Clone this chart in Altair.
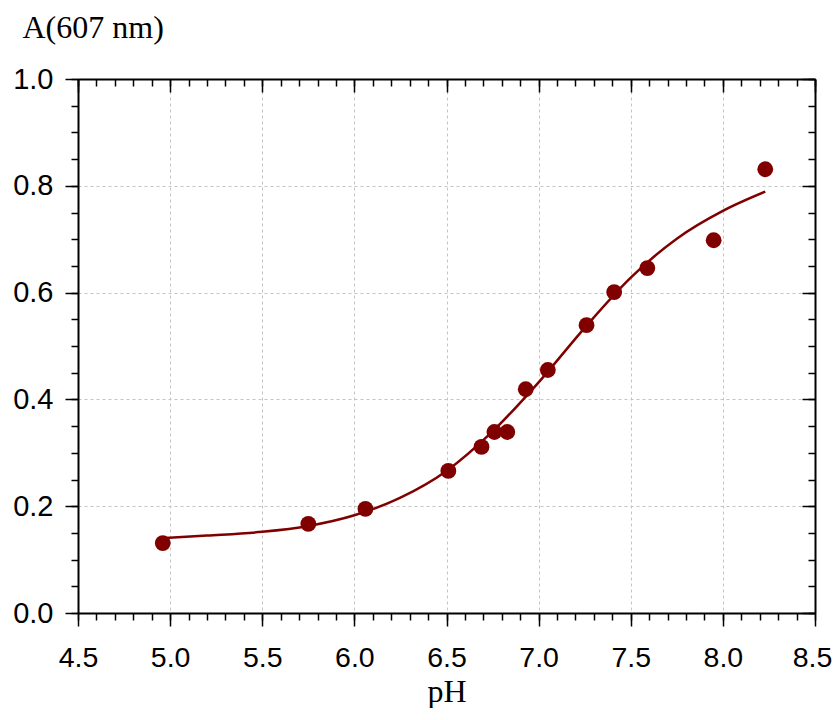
import altair as alt
import pandas as pd

# measured points
ph = [4.96, 5.75, 6.06, 6.51, 6.69, 6.76, 6.83, 6.93, 7.05, 7.26, 7.41, 7.59, 7.95, 8.23]
absorb = [0.131, 0.167, 0.195, 0.266, 0.311, 0.339, 0.339, 0.419, 0.455, 0.539, 0.601, 0.646, 0.698, 0.831]

# fitted curve
curve_ph = [4.95, 5.2, 5.5, 5.75, 6.0, 6.25, 6.5, 6.75, 7.0, 7.25, 7.5, 7.75, 8.0, 8.23]
curve_a = [0.140, 0.145, 0.152, 0.163, 0.183, 0.216, 0.266, 0.340, 0.432, 0.534, 0.628, 0.701, 0.753, 0.789]

x_major = [4.5, 5.0, 5.5, 6.0, 6.5, 7.0, 7.5, 8.0, 8.5]
x_minor = [round(4.5 + 0.1 * i, 1) for i in range(41)]
y_major = [0.0, 0.2, 0.4, 0.6, 0.8, 1.0]
y_minor = [round(0.05 * i, 2) for i in range(21)]

pts = pd.DataFrame({"pH": ph, "A": absorb})
crv = pd.DataFrame({"pH": curve_ph, "A": curve_a})

COLOR = "#800000"
xs = alt.Scale(domain=[4.5, 8.5], nice=False, zero=False)
ys = alt.Scale(domain=[0, 1], nice=False, zero=False)

common = dict(domainColor="black", domainWidth=2, tickColor="black", tickWidth=1.5)

x_bottom = alt.Axis(orient="bottom", values=x_major, format=".1f", tickSize=13,
                    labelFont="Liberation Sans", labelFontSize=28.5, labelColor="black",
                    labelPadding=17, grid=True, gridColor="#c4c4c4", gridDash=[3, 3], gridWidth=1,
                    labelOffset={"condition": {"test": "datum.value > 8.45", "value": -3}, "value": 0},
                    title="pH", titleFont="Liberation Serif", titleFontSize=32, titleFontWeight="normal",
                    titleColor="black", titleBaseline="alphabetic", titleY=88, labelFlush=False,
                    **common)
y_left = alt.Axis(orient="left", values=y_major, format=".1f", tickSize=13,
                  labelFont="Liberation Sans", labelFontSize=29, labelColor="black",
                  labelPadding=12, grid=True, gridColor="#c4c4c4", gridDash=[3, 3], gridWidth=1,
                  title="A(607 nm)", titleFont="Liberation Serif", titleFontSize=32,
                  titleFontWeight="normal", titleColor="black", titleAngle=0, titleAlign="left",
                  titleBaseline="alphabetic", titleX=-56, titleY=-42, labelFlush=False,
                  **common)
x_top = alt.Axis(orient="top", values=x_major, tickSize={"expr": "-13"}, labels=False,
                 grid=False, title=None, **common)
y_right = alt.Axis(orient="right", values=y_major, tickSize={"expr": "-13"}, labels=False,
                   grid=False, title=None, **common)
x_bottom_minor = alt.Axis(orient="bottom", values=x_minor, tickSize=7, labels=False, grid=False,
                          domain=False, title=None, tickColor="black", tickWidth=1.5)
y_left_minor = alt.Axis(orient="left", values=y_minor, tickSize=7, labels=False, grid=False,
                        domain=False, title=None, tickColor="black", tickWidth=1.5)
x_top_minor = alt.Axis(orient="top", values=x_minor, tickSize={"expr": "-7"}, labels=False,
                       grid=False, domain=False, title=None, tickColor="black", tickWidth=1.5)
y_right_minor = alt.Axis(orient="right", values=y_minor, tickSize={"expr": "-7"}, labels=False,
                         grid=False, domain=False, title=None, tickColor="black", tickWidth=1.5)

points = alt.Chart(pts).mark_circle(size=250, color=COLOR, opacity=1).encode(
    x=alt.X("pH:Q", scale=xs, axis=x_bottom),
    y=alt.Y("A:Q", scale=ys, axis=y_left),
)
line = alt.Chart(crv).mark_line(color=COLOR, strokeWidth=2.5, interpolate="monotone").encode(
    x=alt.X("pH:Q", scale=xs, axis=x_top),
    y=alt.Y("A:Q", scale=ys, axis=y_right),
)
minor1 = alt.Chart(crv).mark_line(opacity=0).encode(
    x=alt.X("pH:Q", scale=xs, axis=x_bottom_minor),
    y=alt.Y("A:Q", scale=ys, axis=y_left_minor),
)
minor2 = alt.Chart(crv).mark_line(opacity=0).encode(
    x=alt.X("pH:Q", scale=xs, axis=x_top_minor),
    y=alt.Y("A:Q", scale=ys, axis=y_right_minor),
)

chart = alt.layer(minor1, minor2, line, points).resolve_axis(
    x="independent", y="independent"
).properties(
    width=737, height=534,
    autosize=alt.AutoSizeParams(type="none"),
    padding={"left": 70, "top": 71, "right": 17, "bottom": 95},
).configure_view(stroke=None).configure(background="white")

chart.save("out.html", embed_options={"renderer": "svg", "actions": False})
